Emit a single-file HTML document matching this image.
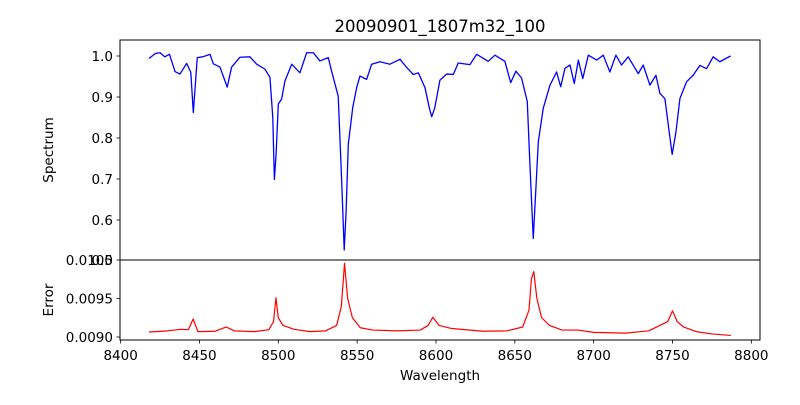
<!DOCTYPE html>
<html><head><meta charset="utf-8"><style>
body{margin:0;background:#fff}
svg text{font-family:"DejaVu Sans","Liberation Sans",sans-serif;fill:#000}
</style></head><body>
<svg id="chart" width="800" height="400" xmlns="http://www.w3.org/2000/svg">
<rect width="800" height="400" fill="#fff"/>
<text x="440" y="32" font-size="16.5" text-anchor="middle">20090901_1807m32_100</text>
<g id="topG"></g>
<g id="botG"></g>
<text transform="translate(53,150) rotate(-90)" font-size="13.5" text-anchor="middle">Spectrum</text>
<text transform="translate(53,300) rotate(-90)" font-size="13.5" text-anchor="middle">Error</text>
<text x="440" y="380" font-size="13.5" text-anchor="middle">Wavelength</text>
</svg>
<script>
const specWave=[8418,8422,8425,8428,8431,8434.5,8437.6,8441.9,8444.5,8446.1,8448.6,8452,8456.7,8458.8,8463,8467.6,8470.4,8475.7,8482,8486.3,8491.5,8494.7,8496.5,8497.5,8498.6,8500,8502.1,8504.2,8508.5,8513.7,8518,8522.2,8526.4,8531.7,8533.8,8538,8540.2,8541.8,8543,8544.4,8547.2,8549.7,8551.8,8556,8559.2,8564.5,8570.8,8577.2,8581.4,8585.6,8588.8,8593,8596,8597.3,8599.2,8602.5,8606.8,8611,8614.1,8621.5,8625.8,8633.1,8637.4,8643.7,8647.4,8650.7,8654.3,8657.9,8659.6,8661.7,8663,8664.9,8668,8672.3,8676.5,8679.1,8681.8,8685,8687.7,8690.3,8693.1,8696.6,8701.9,8706.1,8710.3,8714.1,8717.7,8721.9,8728.3,8731.4,8735.7,8739.5,8742,8745.2,8747.9,8749.8,8752.2,8754.7,8758.9,8763.1,8767.4,8771.6,8775.8,8780,8786.8];
const specFlux=[0.994,1.006,1.008,0.998,1.004,0.962,0.956,0.982,0.96,0.862,0.996,0.998,1.004,0.981,0.973,0.924,0.973,0.997,0.998,0.98,0.968,0.948,0.85,0.699,0.76,0.883,0.895,0.939,0.98,0.959,1.008,1.008,0.988,0.996,0.963,0.902,0.695,0.527,0.62,0.785,0.874,0.923,0.951,0.943,0.98,0.986,0.98,0.992,0.972,0.955,0.959,0.923,0.87,0.852,0.873,0.941,0.956,0.955,0.983,0.979,1.004,0.987,1.002,0.987,0.935,0.963,0.946,0.889,0.734,0.555,0.65,0.791,0.872,0.929,0.961,0.925,0.97,0.978,0.933,0.99,0.945,1.002,0.99,1.002,0.961,1.002,0.978,0.998,0.957,0.978,0.929,0.953,0.909,0.896,0.815,0.76,0.815,0.896,0.937,0.953,0.977,0.969,0.998,0.986,1.0];
const errWave=[8418,8430,8438,8443,8446,8449,8460,8467,8472,8485,8494,8497,8498.5,8500,8503,8510,8520,8530,8537,8540,8542,8544,8547,8552,8560,8575,8590,8595,8598,8602,8610,8630,8645,8655,8659,8660.5,8662,8664,8667,8672,8680,8690,8700,8720,8735,8742,8747,8750,8753,8757,8765,8775,8787];
const errVal=[0.009065,0.00908,0.0091,0.009095,0.009234,0.00907,0.009075,0.00913,0.00908,0.00907,0.009095,0.0092,0.00951,0.00925,0.00915,0.0091,0.00907,0.00908,0.00915,0.0094,0.009957,0.0095,0.00925,0.00912,0.00909,0.00908,0.00909,0.00915,0.009256,0.00915,0.00911,0.009075,0.00908,0.00913,0.00935,0.00975,0.00985,0.0095,0.00925,0.00915,0.00909,0.00909,0.00906,0.00905,0.00908,0.00915,0.0092,0.00934,0.0092,0.00913,0.00907,0.00904,0.00902];
const xTicks=[8400,8450,8500,8550,8600,8650,8700,8750,8800];
const specTicks=[0.6,0.7,0.8,0.9,1.0];
const specTickLabels=["0.6","0.7","0.8","0.9","1.0"];
const errTicks=[0.0090,0.0095,0.0100];
const errTickLabels=["0.0090","0.0095","0.0100"];

const NS="http://www.w3.org/2000/svg";
const L=120,R=760,XMIN=8399.6,XMAX=8805.5;
const xs=w=>L+(w-XMIN)/(XMAX-XMIN)*(R-L);
const ysTop=f=>56+(1.0-f)*410;
const ysBot=e=>260+(0.0100-e)*77000;
function mk(tag,attrs,parent){const el=document.createElementNS(NS,tag);for(const k in attrs)el.setAttribute(k,attrs[k]);parent.appendChild(el);return el;}
const topG=document.getElementById('topG'),botG=document.getElementById('botG');

const sp=mk('polyline',{points:specWave.map((w,i)=>xs(w).toFixed(2)+','+ysTop(specFlux[i]).toFixed(2)).join(' '),fill:'none',stroke:'#0000ff','stroke-width':1.3,'stroke-linejoin':'round'},topG);


const er=mk('polyline',{points:errWave.map((w,i)=>xs(w).toFixed(2)+','+ysBot(errVal[i]).toFixed(2)).join(' '),fill:'none',stroke:'#ff0000','stroke-width':1.2,'stroke-linejoin':'round'},botG);



specTicks.forEach((t,i)=>{const y=ysTop(t);
 const tk=mk('line',{x1:L-3.5,x2:L,y1:y,y2:y,stroke:'#000','stroke-width':0.8},topG);
 
 
 const tx=mk('text',{x:L-7,y:y+5,'font-size':13.5,'text-anchor':'end'},topG);tx.textContent=specTickLabels[i];
 
 
});
const half=mk('text',{x:L-7,y:265,'font-size':13.5,'text-anchor':'end'},topG);half.textContent="0.5";


errTicks.forEach((t,i)=>{const y=ysBot(t);
 const tk=mk('line',{x1:L-3.5,x2:L,y1:y,y2:y,stroke:'#000','stroke-width':0.8},botG);
 
 
 const tx=mk('text',{x:L-7,y:y+5,'font-size':13.5,'text-anchor':'end'},botG);tx.textContent=errTickLabels[i];
 
 
});
xTicks.forEach(t=>{const x=xs(t);
 const tk=mk('line',{x1:x,x2:x,y1:340,y2:343.5,stroke:'#000','stroke-width':0.8},botG);
 
 
 const tx=mk('text',{x:x,y:360,'font-size':13.5,'text-anchor':'middle'},botG);tx.textContent=String(t);
 
 
});
const f1=mk('rect',{x:L,y:40,width:R-L,height:220,fill:'none',stroke:'#000','stroke-width':1},topG);


const f2=mk('rect',{x:L,y:260,width:R-L,height:80,fill:'none',stroke:'#000','stroke-width':1},botG);


</script>
</body></html>
